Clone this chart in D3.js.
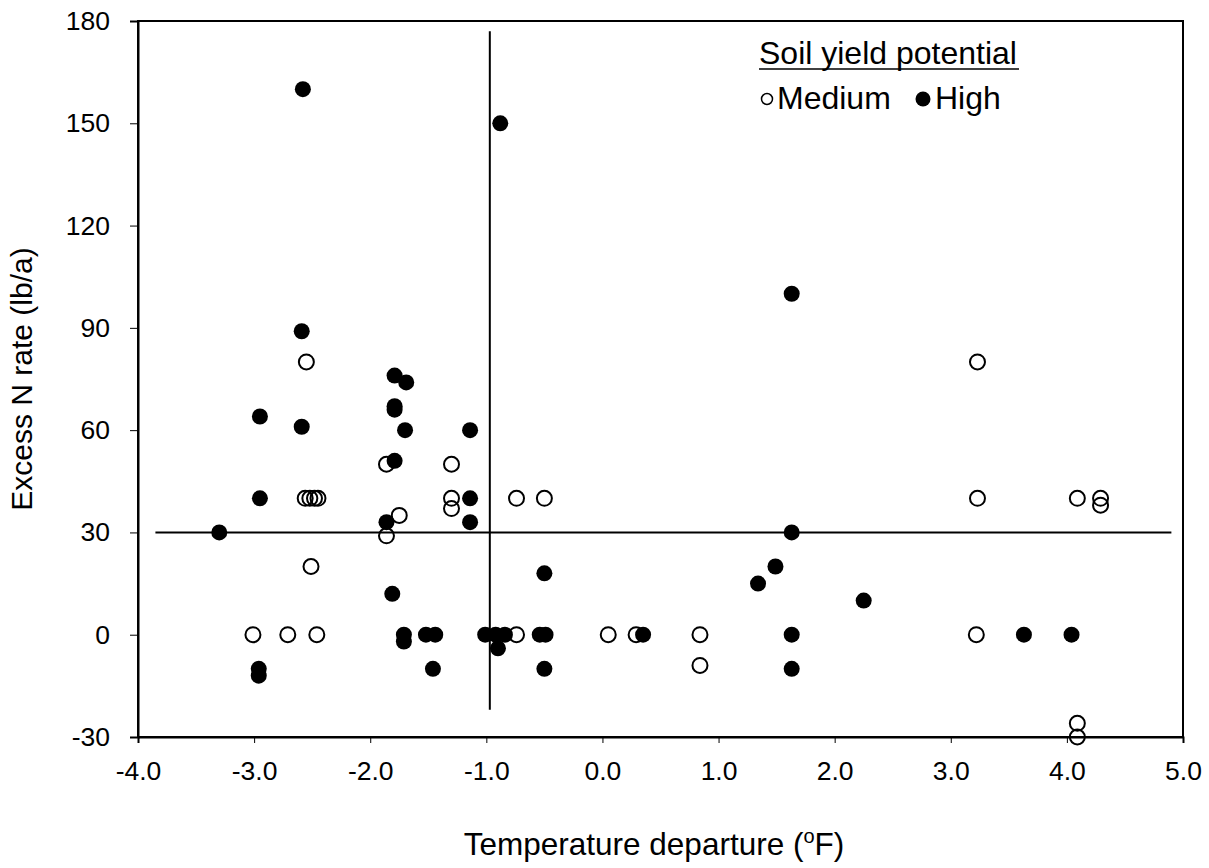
<!DOCTYPE html>
<html>
<head>
<meta charset="utf-8">
<script src="https://cdn.jsdelivr.net/npm/d3@7/dist/d3.min.js"></script>
<style>
  html, body { margin: 0; padding: 0; background: #fff; }
  svg { display: block; font-family: Arial, "Liberation Sans", Helvetica, sans-serif; }
</style>
</head>
<body>
<svg id="chart" width="1209" height="868"></svg>
<script>
// ---- Data ----
const xTicks = [-4, -3, -2, -1, 0, 1, 2, 3, 4, 5];
const yTicks = [-30, 0, 30, 60, 90, 120, 150, 180];

// Medium soil yield potential (open circles): [temperature departure, excess N]
const medium = [
  [-2.55, 80], [-1.86, 50], [-1.30, 50],
  [-2.56, 40], [-2.52, 40], [-2.48, 40], [-2.45, 40],
  [-1.30, 40], [-1.30, 37], [-0.74, 40], [-0.50, 40],
  [-1.75, 35], [-1.86, 29], [-2.51, 20],
  [-3.01, 0], [-2.71, 0], [-2.46, 0], [-0.74, 0],
  [0.05, 0], [0.29, 0], [0.84, 0], [0.84, -9],
  [3.23, 80], [3.23, 40], [4.09, 40], [4.29, 40], [4.29, 38],
  [3.22, 0], [4.09, -26], [4.09, -30]
];

// High soil yield potential (filled circles)
const high = [
  [-2.58, 160], [-0.88, 150], [1.63, 100], [-2.59, 89],
  [-1.79, 76], [-1.69, 74], [-1.79, 67], [-1.79, 66],
  [-2.95, 64], [-2.59, 61], [-1.70, 60], [-1.14, 60],
  [-1.79, 51], [-2.95, 40], [-1.14, 40], [-1.14, 33], [-1.86, 33],
  [-3.30, 30], [1.63, 30], [-0.50, 18], [1.49, 20], [1.34, 15],
  [-1.81, 12], [2.25, 10],
  [-1.71, 0], [-1.71, -2], [-1.52, 0], [-1.44, 0], [-1.46, -10],
  [-2.96, -10], [-2.96, -12],
  [-1.01, 0], [-0.92, 0], [-0.84, 0], [-0.90, -4],
  [-0.54, 0], [-0.49, 0], [-0.50, -10],
  [0.35, 0], [1.63, 0], [1.63, -10], [3.63, 0], [4.04, 0]
];

// Reference lines
const hLine = { y: 30, x0: -3.85, x1: 4.9 };
const vLine = { x: -0.97, y0: 177, y1: -22 };

// ---- Layout ----
const svg = d3.select("#chart");
const margin = { top: 21, right: 26, bottom: 131, left: 138 };
const W = 1209, H = 868;
const iw = W - margin.left - margin.right;
const ih = H - margin.top - margin.bottom;

const x = d3.scaleLinear().domain([-4, 5]).range([0, iw]);
const y = d3.scaleLinear().domain([-30, 180]).range([ih, 0]);

const g = svg.append("g").attr("transform", `translate(${margin.left},${margin.top})`);

// Frame
g.append("rect")
  .attr("x", 0).attr("y", 0).attr("width", iw).attr("height", ih)
  .attr("fill", "none").attr("stroke", "#000").attr("stroke-width", 2);

// Axes
const xAxis = g.append("g").attr("transform", `translate(0,${ih})`)
  .call(d3.axisBottom(x).tickValues(xTicks).tickFormat(d3.format(".1f")).tickSize(6).tickPadding(32));
const yAxis = g.append("g")
  .call(d3.axisLeft(y).tickValues(yTicks).tickFormat(d3.format("d")).tickSize(8).tickPadding(20));

[xAxis, yAxis].forEach(a => {
  a.select(".domain").attr("stroke", "#000").attr("stroke-width", 2);
  a.selectAll(".tick line").attr("stroke", "#000").attr("stroke-width", 1);
  a.selectAll(".tick text")
    .attr("fill", "#000")
    .style("font-size", "26.5px")
    .style("font-family", "Arial, 'Liberation Sans', sans-serif");
});
xAxis.selectAll(".tick text").attr("dy", "0.2em");
xAxis.selectAll(".tick text").text(d => d3.format(".1f")(d).replace("−", "-"));
yAxis.selectAll(".tick text").text(d => String(d).replace("−", "-"));

// Reference lines
g.append("line")
  .attr("x1", x(hLine.x0)).attr("x2", x(hLine.x1))
  .attr("y1", y(hLine.y)).attr("y2", y(hLine.y))
  .attr("stroke", "#000").attr("stroke-width", 2);
g.append("line")
  .attr("x1", x(vLine.x)).attr("x2", x(vLine.x))
  .attr("y1", y(vLine.y0)).attr("y2", y(vLine.y1))
  .attr("stroke", "#000").attr("stroke-width", 2);

// Points
g.append("g").selectAll("circle").data(medium).join("circle")
  .attr("cx", d => x(d[0])).attr("cy", d => y(d[1]))
  .attr("r", 7.5).attr("fill", "none").attr("stroke", "#000").attr("stroke-width", 2);

g.append("g").selectAll("circle").data(high).join("circle")
  .attr("cx", d => x(d[0])).attr("cy", d => y(d[1]))
  .attr("r", 8).attr("fill", "#000");

// Axis titles
const xt = svg.append("text")
  .attr("x", 654).attr("y", 855)
  .attr("text-anchor", "middle")
  .style("font-size", "31.5px").attr("fill", "#000");
xt.append("tspan").text("Temperature departure (");
xt.append("tspan").text("o").style("font-size", "20px").attr("dy", "-12");
xt.append("tspan").text("F)").attr("dy", "12");

svg.append("text")
  .attr("transform", `translate(32,${margin.top + ih / 2}) rotate(-90)`)
  .attr("text-anchor", "middle")
  .style("font-size", "30px").attr("fill", "#000")
  .text("Excess N rate (lb/a)");

// Legend
const leg = svg.append("g");
leg.append("text").attr("x", 759).attr("y", 64)
  .style("font-size", "32px").attr("fill", "#000")
  .text("Soil yield potential");
leg.append("line").attr("x1", 759).attr("x2", 1019).attr("y1", 69).attr("y2", 69)
  .attr("stroke", "#000").attr("stroke-width", 1.5);
leg.append("circle").attr("cx", 767).attr("cy", 99).attr("r", 5.5)
  .attr("fill", "none").attr("stroke", "#000").attr("stroke-width", 1.5);
leg.append("text").attr("x", 777).attr("y", 109)
  .style("font-size", "32px").attr("fill", "#000").text("Medium");
leg.append("circle").attr("cx", 923).attr("cy", 99).attr("r", 7.5).attr("fill", "#000");
leg.append("text").attr("x", 935).attr("y", 109)
  .style("font-size", "32px").attr("fill", "#000").text("High");
</script>
</body>
</html>
